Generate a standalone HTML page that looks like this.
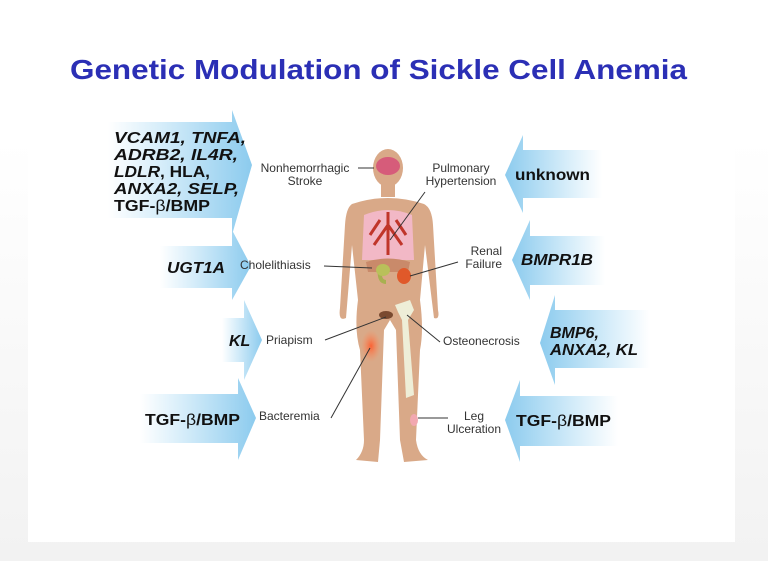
<!DOCTYPE html>
<html><head><meta charset="utf-8"><style>
html,body{margin:0;padding:0;background:#f6f6f6;}
svg{display:block;}
text{font-family:"Liberation Sans",Arial,sans-serif;}
</style></head><body>
<svg width="768" height="561" viewBox="0 0 768 561" xmlns="http://www.w3.org/2000/svg">
<defs>
<linearGradient id="gl" x1="0" x2="1" y1="0" y2="0"><stop offset="0" stop-color="#ffffff"/><stop offset="0.35" stop-color="#d8eefa"/><stop offset="1" stop-color="#8ccbee"/></linearGradient>
<linearGradient id="gr" x1="0" x2="1" y1="0" y2="0"><stop offset="0" stop-color="#8ccbee"/><stop offset="0.65" stop-color="#d8eefa"/><stop offset="1" stop-color="#ffffff"/></linearGradient>
<linearGradient id="bg" x1="0" x2="0" y1="0" y2="1"><stop offset="0" stop-color="#ffffff"/><stop offset="0.25" stop-color="#ffffff"/><stop offset="1" stop-color="#f2f2f2"/></linearGradient>
<radialGradient id="inf"><stop offset="0" stop-color="#ff5a2a" stop-opacity="0.9"/><stop offset="1" stop-color="#ff8a5a" stop-opacity="0"/></radialGradient>
</defs>
<rect x="0" y="0" width="768" height="561" fill="url(#bg)"/>
<rect x="28" y="130" width="707" height="412" fill="#ffffff"/>
<text x="70" y="79" textLength="617" lengthAdjust="spacingAndGlyphs" font-size="28" font-weight="bold" fill="#2b2fb5">Genetic Modulation of Sickle Cell Anemia</text>

<!-- left arrows -->
<polygon points="108,122 232,122 232,110 252,165 232,235 232,218 108,218" fill="url(#gl)"/>
<polygon points="160,246 232,246 232,230 251,266 232,300 232,288 160,288" fill="url(#gl)"/>
<polygon points="222,318 244,318 244,300 262,340 244,380 244,362 222,362" fill="url(#gl)"/>
<polygon points="140,394 238,394 238,378 256,418 238,460 238,443 140,443" fill="url(#gl)"/>
<!-- right arrows -->
<polygon points="505,175 523,135 523,150 602,150 602,198 523,198 523,213" fill="url(#gr)"/>
<polygon points="512,260 530,220 530,236 605,236 605,285 530,285 530,300" fill="url(#gr)"/>
<polygon points="540,343 555,295 555,310 650,310 650,368 555,368 555,385" fill="url(#gr)"/>
<polygon points="505,420 520,380 520,396 618,396 618,446 520,446 520,462" fill="url(#gr)"/>

<g font-weight="bold" font-size="16" fill="#111">
<text x="114" y="143" font-style="italic" textLength="132" lengthAdjust="spacingAndGlyphs">VCAM1, TNFA,</text>
<text x="114" y="160" font-style="italic" textLength="124" lengthAdjust="spacingAndGlyphs">ADRB2, IL4R,</text>
<text x="114" y="177" textLength="96" lengthAdjust="spacingAndGlyphs"><tspan font-style="italic">LDLR</tspan>, HLA,</text>
<text x="114" y="194" font-style="italic" textLength="125" lengthAdjust="spacingAndGlyphs">ANXA2, SELP,</text>
<text x="114" y="211" textLength="96" lengthAdjust="spacingAndGlyphs">TGF-<tspan font-weight="normal">β</tspan>/BMP</text>
<text x="167" y="273" font-style="italic" textLength="58" lengthAdjust="spacingAndGlyphs">UGT1A</text>
<text x="229" y="346" font-style="italic">KL</text>
<text x="145" y="425" textLength="95" lengthAdjust="spacingAndGlyphs">TGF-<tspan font-weight="normal">β</tspan>/BMP</text>
<text x="515" y="180" textLength="75" lengthAdjust="spacingAndGlyphs">unknown</text>
<text x="521" y="265" font-style="italic" textLength="72" lengthAdjust="spacingAndGlyphs">BMPR1B</text>
<text x="550" y="338" font-style="italic">BMP6,</text>
<text x="550" y="355" font-style="italic" textLength="88" lengthAdjust="spacingAndGlyphs">ANXA2, KL</text>
<text x="516" y="426" textLength="95" lengthAdjust="spacingAndGlyphs">TGF-<tspan font-weight="normal">β</tspan>/BMP</text>
</g>

<g font-size="12" fill="#333">
<text x="305" y="172" text-anchor="middle">Nonhemorrhagic</text>
<text x="305" y="185" text-anchor="middle">Stroke</text>
<text x="461" y="172" text-anchor="middle">Pulmonary</text>
<text x="461" y="185" text-anchor="middle">Hypertension</text>
<text x="240" y="269">Cholelithiasis</text>
<text x="502" y="255" text-anchor="end">Renal</text>
<text x="502" y="268" text-anchor="end">Failure</text>
<text x="266" y="344">Priapism</text>
<text x="443" y="345">Osteonecrosis</text>
<text x="259" y="420">Bacteremia</text>
<text x="474" y="420" text-anchor="middle">Leg</text>
<text x="474" y="433" text-anchor="middle">Ulceration</text>
</g>

<!-- body -->
<g fill="#d9a988">
<ellipse cx="388" cy="168" rx="15" ry="19"/>
<rect x="381" y="183" width="14" height="14"/>
<path d="M352,204 Q388,192 424,204 Q432,208 433,225 L438,310 Q440,320 434,318 L425,245 L420,300 Q424,330 420,350 L416,440 Q418,455 428,460 L404,462 L400,440 L396,330 L390,320 L384,330 L380,440 L378,462 L356,460 Q364,452 364,440 L360,350 Q354,330 358,300 L352,245 L346,318 Q338,322 340,308 L345,225 Q346,208 352,204Z"/>
</g>
<path d="M364,215 Q388,205 412,215 L414,260 L362,260Z" fill="#f2b8c6"/>
<path d="M388,212 L388,255 M388,225 L374,245 M388,225 L402,245 M380,220 L370,235 M396,220 L406,235" stroke="#c0352a" stroke-width="3" fill="none"/>
<path d="M366,262 Q388,255 410,262 L408,272 L368,272Z" fill="#c98a6a"/>
<path d="M380,266 Q378,282 386,282" stroke="#a8b050" stroke-width="4" fill="none"/>
<ellipse cx="383" cy="270" rx="7" ry="6" fill="#b9c05a"/>
<ellipse cx="404" cy="276" rx="7" ry="8" fill="#e0592a"/>
<ellipse cx="388" cy="166" rx="12" ry="9" fill="#d65c7a"/>
<path d="M395,305 L410,300 L414,310 L408,320 L414,395 L406,398 L402,320 L398,312Z" fill="#eeeed8"/>
<ellipse cx="386" cy="315" rx="7" ry="4" fill="#7a4a30"/>
<ellipse cx="371" cy="346" rx="10" ry="16" fill="url(#inf)"/>
<ellipse cx="414" cy="420" rx="4" ry="6" fill="#f2a8b0"/>

<g stroke="#333" stroke-width="1" fill="none">
<line x1="358" y1="168" x2="374" y2="168"/>
<line x1="425" y1="192" x2="390" y2="240"/>
<line x1="324" y1="266" x2="372" y2="268"/>
<line x1="458" y1="262" x2="410" y2="276"/>
<line x1="325" y1="340" x2="386" y2="317"/>
<line x1="440" y1="342" x2="407" y2="315"/>
<line x1="331" y1="418" x2="370" y2="348"/>
<line x1="418" y1="418" x2="448" y2="418"/>
</g>
</svg>
</body></html>
